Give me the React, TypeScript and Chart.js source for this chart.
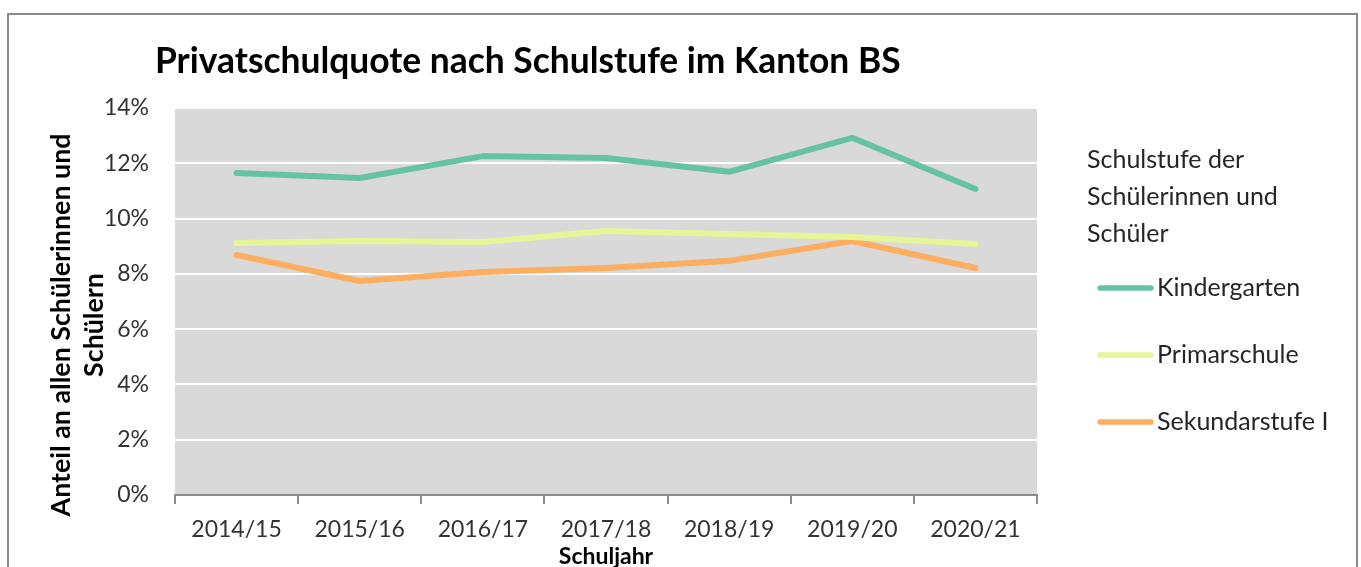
import React, { useEffect, useRef } from 'react';
import { Chart, registerables } from 'chart.js';

Chart.register(...registerables);

const categories = ['2014/15', '2015/16', '2016/17', '2017/18', '2018/19', '2019/20', '2020/21'];
const kindergarten = [11.65, 11.47, 12.26, 12.19, 11.69, 12.92, 11.07];
const primarschule = [9.12, 9.19, 9.15, 9.55, 9.44, 9.33, 9.08];
const sekundarstufe = [8.68, 7.74, 8.07, 8.21, 8.47, 9.19, 8.21];
const seriesNames = ['Kindergarten', 'Primarschule', 'Sekundarstufe I'];
const seriesColors = ['#66c2a5', '#e6f598', '#fdae61'];
const yMin = 0;
const yMax = 14;
const yStep = 2;
const chartTitle = 'Privatschulquote nach Schulstufe im Kanton BS';
const legendTitle = ['Schulstufe der', 'Schülerinnen und', 'Schüler'];
const yTitle = ['Anteil an allen Schülerinnen und', 'Schülern'];
const xTitle = 'Schuljahr';

const FONT = 'Lato, "Open Sans", sans-serif';

const decorPlugin = {
  id: 'decor',
  beforeDraw(chart: any) {
    const { ctx, chartArea: a } = chart;
    ctx.save();
    ctx.fillStyle = '#d9d9d9';
    ctx.fillRect(a.left, a.top, a.right - a.left, a.bottom - a.top);
    ctx.restore();
  },
  afterDraw(chart: any) {
    const ctx = chart.ctx;
    ctx.save();
    // chart title
    ctx.font = `bold 35.4px ${FONT}`;
    ctx.fillStyle = '#000';
    ctx.textBaseline = 'middle';
    ctx.textAlign = 'left';
    ctx.fillText(chartTitle, 155, 62);

    // y axis title (two centred lines, rotated)
    ctx.save();
    ctx.font = `bold 26.8px ${FONT}`;
    ctx.fillStyle = '#000';
    ctx.translate(61, 325);
    ctx.rotate(-Math.PI / 2);
    ctx.textAlign = 'center';
    ctx.textBaseline = 'middle';
    yTitle.forEach((line, i) => ctx.fillText(line, 0, i * 33));
    ctx.restore();

    // legend
    ctx.font = `25px ${FONT}`;
    ctx.fillStyle = '#262626';
    ctx.textAlign = 'left';
    ctx.textBaseline = 'middle';
    legendTitle.forEach((line, i) => ctx.fillText(line, 1087, 160 + i * 37));
    chart.data.datasets.forEach((ds: any, i: number) => {
      const y = 288 + i * 67;
      ctx.strokeStyle = ds.borderColor;
      ctx.lineWidth = 5.5;
      ctx.lineCap = 'round';
      ctx.beginPath();
      ctx.moveTo(1100, y);
      ctx.lineTo(1151, y);
      ctx.stroke();
      ctx.fillStyle = '#262626';
      ctx.fillText(ds.label, 1157, y);
    });
    ctx.restore();
  },
};

export default function App() {
  const ref = useRef<HTMLCanvasElement | null>(null);

  useEffect(() => {
    if (!ref.current) return;
    const series = [kindergarten, primarschule, sekundarstufe];
    const chart = new Chart(ref.current, {
      type: 'line',
      data: {
        labels: categories,
        datasets: series.map((data, i) => ({
          label: seriesNames[i],
          data,
          borderColor: seriesColors[i],
          backgroundColor: seriesColors[i],
          borderWidth: 6,
          pointRadius: 0,
          pointHoverRadius: 0,
          tension: 0,
          borderCapStyle: 'round',
          borderJoinStyle: 'round',
          fill: false,
        })),
      },
      plugins: [decorPlugin],
      options: {
        animation: false,
        responsive: false,
        maintainAspectRatio: false,
        layout: { padding: { top: 108, right: 324, bottom: 0, left: 0 } },
        plugins: {
          legend: { display: false },
          title: { display: false },
          tooltip: { enabled: false },
        },
        scales: {
          x: {
            offset: true,
            afterFit: (s: any) => {
              s.height = 72;
            },
            grid: {
              display: true,
              offset: true,
              drawOnChartArea: false,
              drawTicks: true,
              tickLength: 9,
              color: '#8c8c8c',
              lineWidth: 2,
            },
            border: { display: true, color: '#8c8c8c', width: 2 },
            ticks: {
              font: { family: FONT, size: 23 },
              color: '#333',
              padding: 12,
              maxRotation: 0,
              autoSkip: false,
            },
            title: {
              display: true,
              text: xTitle,
              font: { family: FONT, size: 23, weight: 'bold', lineHeight: 1 },
              color: '#000',
              padding: { top: 0, bottom: -1 },
            },
          },
          y: {
            min: yMin,
            max: yMax,
            afterFit: (s: any) => {
              s.width = 175;
            },
            grid: {
              drawTicks: false,
              color: (c: any) => (c.tick && c.tick.value === 0 ? 'rgba(0,0,0,0)' : '#ffffff'),
              lineWidth: 2,
            },
            border: { display: false },
            ticks: {
              stepSize: yStep,
              padding: 26,
              font: { family: FONT, size: 23 },
              color: '#333',
              callback: (v: any) => `${v}%`,
            },
          },
        },
      } as any,
    });
    return () => chart.destroy();
  }, []);

  return (
    <>
      <div
        style={{
          position: 'fixed',
          left: 7,
          top: 13,
          width: 1351,
          height: 700,
          boxSizing: 'border-box',
          border: '2px solid #8a8a8a',
          background: '#fff',
        }}
      />
      <canvas
        ref={ref}
        width={1361}
        height={567}
        style={{ position: 'fixed', left: 0, top: 0, width: 1361, height: 567 }}
      />
    </>
  );
}
